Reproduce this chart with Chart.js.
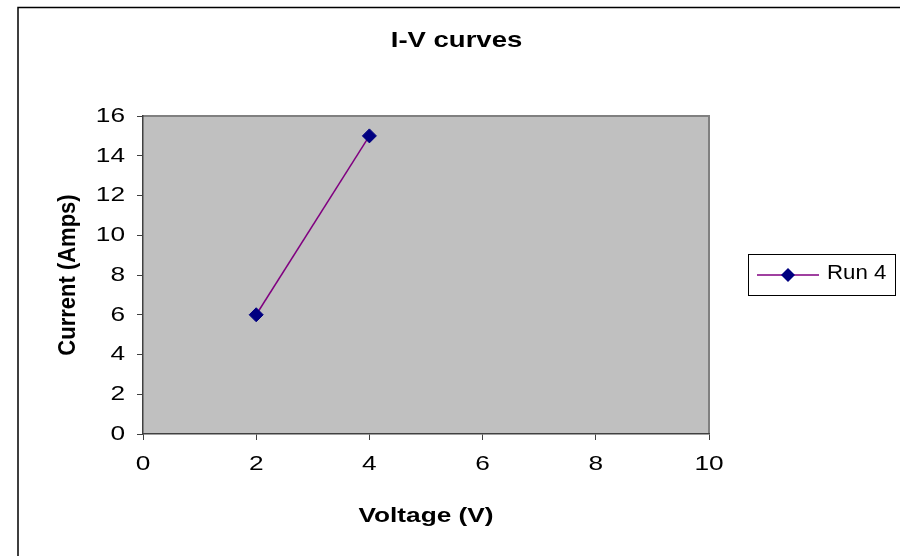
<!DOCTYPE html>
<html>
<head>
<meta charset="utf-8">
<style>
  html, body { margin: 0; padding: 0; background: #ffffff; }
  #wrap { width: 900px; height: 556px; }
</style>
<script src="https://cdn.jsdelivr.net/npm/chart.js@4/dist/chart.umd.min.js"></script>
</head>
<body>
<div id="wrap"><canvas id="c" width="900" height="556"></canvas></div>
<script>
// ---- data ----
const chartTitle = "I-V curves";
const seriesName = "Run 4";
const voltages = [2, 4];
const currents = [6, 15];
const xTickValues = [0, 2, 4, 6, 8, 10];
const yTickValues = [0, 2, 4, 6, 8, 10, 12, 14, 16];
const xAxisTitle = "Voltage (V)";
const yAxisTitle = "Current (Amps)";

const FONT = '"Liberation Sans", Arial, Helvetica, sans-serif';
const X_STRETCH = 1.25;   // reference text is drawn wide
const ROT_STRETCH = 1.1;

const canvas = document.getElementById('c');
const ctx2d = canvas.getContext('2d');

// draw text horizontally widened (still real text via fillText)
(function patch(ctx) {
  const orig = ctx.fillText;
  ctx.fillText = function (text, x, y) {
    const m = this.getTransform();
    const rotated = Math.abs(m.b) > 1e-6;
    const s = this.__stretch || (rotated ? ROT_STRETCH : X_STRETCH);
    this.save();
    this.translate(x, y);
    if (rotated) this.scale(1, s); else this.scale(s, 1);
    orig.call(this, text, 0, 0);
    this.restore();
  };
})(ctx2d);

const decor = {
  id: 'decor',
  beforeDraw(chart) {
    const ctx = chart.ctx;
    const a = chart.chartArea;
    ctx.save();
    ctx.fillStyle = '#ffffff';
    ctx.fillRect(0, 0, chart.width, chart.height);
    // outer frame
    ctx.strokeStyle = '#000000';
    ctx.lineWidth = 1.5;
    ctx.strokeRect(18, 7.5, 1000, 1000);
    // plot area
    ctx.fillStyle = '#c0c0c0';
    ctx.fillRect(a.left, a.top, a.right - a.left, a.bottom - a.top);
    ctx.strokeStyle = '#808080';
    ctx.lineWidth = 2;
    ctx.beginPath();
    ctx.moveTo(a.left, a.top);
    ctx.lineTo(a.right, a.top);
    ctx.lineTo(a.right, a.bottom);
    ctx.stroke();
    ctx.restore();
  },
  afterDraw(chart) {
    const ctx = chart.ctx;
    const ds = chart.data.datasets[0];
    ctx.save();
    // title
    ctx.fillStyle = '#000000';
    ctx.font = 'bold 22px ' + FONT;
    ctx.textAlign = 'center';
    ctx.textBaseline = 'middle';
    ctx.__stretch = X_STRETCH;
    ctx.fillText(chartTitle, 456.5, 41);
    // legend
    ctx.fillStyle = '#ffffff';
    ctx.fillRect(748.5, 254.5, 147, 41);
    ctx.strokeStyle = '#000000';
    ctx.lineWidth = 1;
    ctx.strokeRect(748.5, 254.5, 147, 41);
    ctx.strokeStyle = ds.borderColor;
    ctx.lineWidth = 1.5;
    ctx.beginPath();
    ctx.moveTo(757, 275);
    ctx.lineTo(819, 275);
    ctx.stroke();
    const r = 7;
    ctx.fillStyle = ds.pointBackgroundColor;
    ctx.beginPath();
    ctx.moveTo(788, 275 - r);
    ctx.lineTo(788 + r, 275);
    ctx.lineTo(788, 275 + r);
    ctx.lineTo(788 - r, 275);
    ctx.closePath();
    ctx.fill();
    ctx.fillStyle = '#000000';
    ctx.font = '21px ' + FONT;
    ctx.textAlign = 'left';
    ctx.__stretch = 1.06;
    ctx.fillText(ds.label, 827, 273);
    ctx.__stretch = 0;
    ctx.restore();
  }
};

new Chart(ctx2d, {
  type: 'scatter',
  data: {
    datasets: [{
      label: seriesName,
      data: voltages.map((v, i) => ({ x: v, y: currents[i] })),
      showLine: true,
      borderColor: '#800080',
      borderWidth: 1.5,
      pointStyle: 'rectRot',
      pointRadius: 7,
      pointHoverRadius: 7,
      pointBackgroundColor: '#000080',
      pointBorderColor: '#000080',
      pointBorderWidth: 1,
      fill: false,
      tension: 0
    }]
  },
  options: {
    responsive: false,
    animation: false,
    devicePixelRatio: 1,
    layout: { padding: { left: 0, top: 116, right: 191, bottom: 0 } },
    plugins: {
      legend: { display: false },
      title: { display: false },
      tooltip: { enabled: false }
    },
    scales: {
      x: {
        type: 'linear',
        min: xTickValues[0],
        max: xTickValues[xTickValues.length - 1],
        afterBuildTicks(scale) { scale.ticks = xTickValues.map(v => ({ value: v })); },
        afterFit(scale) { scale.height = 122; },
        grid: { display: true, drawOnChartArea: false, drawTicks: true, tickLength: 6, color: '#404040', lineWidth: 1 },
        border: { display: true, color: '#404040', width: 1.5 },
        ticks: { color: '#000000', font: { family: FONT, size: 21 }, padding: 12, maxRotation: 0, autoSkip: false },
        title: { display: true, text: xAxisTitle, color: '#000000', font: { family: FONT, size: 21, weight: 'bold' }, padding: { top: 0, bottom: 27 } }
      },
      y: {
        type: 'linear',
        min: yTickValues[0],
        max: yTickValues[yTickValues.length - 1],
        afterBuildTicks(scale) { scale.ticks = yTickValues.map(v => ({ value: v })); },
        afterFit(scale) { scale.width = 143; },
        grid: { display: true, drawOnChartArea: false, drawTicks: true, tickLength: 6, color: '#404040', lineWidth: 1 },
        border: { display: true, color: '#404040', width: 1.5 },
        ticks: { color: '#000000', font: { family: FONT, size: 21 }, padding: 12, autoSkip: false },
        title: { display: true, text: yAxisTitle, color: '#000000', font: { family: FONT, size: 22, weight: 'bold' }, padding: { top: 55, bottom: 0 } }
      }
    }
  },
  plugins: [decor]
});
</script>
</body>
</html>
